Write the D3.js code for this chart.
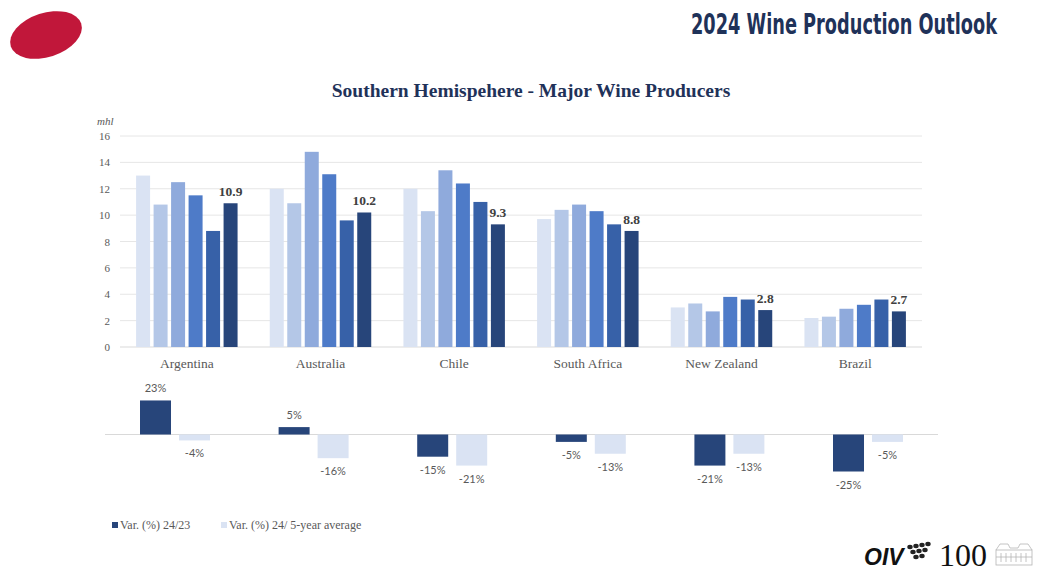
<!DOCTYPE html>
<html>
<head>
<meta charset="utf-8">
<script src="https://cdn.jsdelivr.net/npm/d3@7"></script>
<style>
  body { margin: 0; background: #fff; }
  svg { display: block; }
</style>
</head>
<body>
<div id="chart"></div>
<script>
// data
const countries = ["Argentina", "Australia", "Chile", "South Africa", "New Zealand", "Brazil"];
const years = ["2019", "2020", "2021", "2022", "2023", "2024"];
const production = [
  [13.0, 10.8, 12.5, 11.5, 8.8, 10.9],
  [12.0, 10.9, 14.8, 13.1, 9.6, 10.2],
  [12.0, 10.3, 13.4, 12.4, 11.0, 9.3],
  [9.7, 10.4, 10.8, 10.3, 9.3, 8.8],
  [3.0, 3.3, 2.7, 3.8, 3.6, 2.8],
  [2.2, 2.3, 2.9, 3.2, 3.6, 2.7]
];
const yTicks = [0, 2, 4, 6, 8, 10, 12, 14, 16];
const varSeries = ["Var. (%) 24/23", "Var. (%) 24/ 5-year average"];
const varPrevYear = [23, 5, -15, -5, -21, -25];
const varFiveYear = [-4, -16, -21, -13, -13, -5];

const width = 1042, height = 574;
const serif = "'Liberation Serif', 'DejaVu Serif', serif";
const navy = "#1f3259";
const grey = "#595959";

const svg = d3.select("#chart")
  .append("svg")
  .attr("width", width)
  .attr("height", height);

// header
svg.append("ellipse")
  .attr("cx", 46).attr("cy", 35)
  .attr("rx", 37).attr("ry", 22)
  .attr("transform", "rotate(-18,46,35)")
  .attr("fill", "#c1173a");

// condensed title: squeeze a normal bold face to the slide's width
const title = svg.append("text")
  .style("font-family", "'DejaVu Sans Condensed', 'DejaVu Sans', sans-serif")
  .style("font-weight", "bold")
  .style("font-size", "28px")
  .attr("fill", navy)
  .text("2024 Wine Production Outlook");
const tw = title.node().getComputedTextLength();
title.attr("transform", `translate(691,34) scale(${306 / tw},1)`);

svg.append("text")
  .attr("x", 531).attr("y", 97)
  .attr("text-anchor", "middle")
  .style("font-family", serif)
  .style("font-weight", "bold")
  .style("font-size", "19.5px")
  .attr("fill", navy)
  .text("Southern Hemispehere - Major Wine Producers");

// upper chart: production in mhl
const colors = ["#dae3f3", "#b4c7e7", "#8faadc", "#4e7bc8", "#3761a8", "#27457a"];
const x0 = d3.scaleBand().domain(countries).range([120, 922]).padding(0);
const x1 = d3.scaleBand().domain(years).range([0, x0.bandwidth()])
  .paddingInner(0.2).paddingOuter(0.92);
const y = d3.scaleLinear().domain([0, 16]).range([347, 136]);

const grid = svg.append("g");
grid.selectAll("line").data(yTicks).join("line")
  .attr("x1", 120).attr("x2", 922)
  .attr("y1", d => y(d)).attr("y2", d => y(d))
  .attr("stroke", d => d === 0 ? "#d9d9d9" : "#e6e6e6")
  .attr("stroke-width", 1);

const yAxis = svg.append("g")
  .attr("transform", "translate(120,0)")
  .call(d3.axisLeft(y).tickValues(yTicks).tickSize(0).tickPadding(10));
yAxis.select(".domain").remove();
yAxis.selectAll("text")
  .style("font-family", serif).style("font-size", "11px").attr("fill", grey);

svg.append("text")
  .attr("x", 97).attr("y", 125)
  .style("font-family", serif).style("font-style", "italic").style("font-size", "11px")
  .attr("fill", grey)
  .text("mhl");

const groups = svg.append("g").selectAll("g")
  .data(countries).join("g")
  .attr("transform", d => `translate(${x0(d)},0)`);

groups.selectAll("rect")
  .data((c, i) => production[i].map((v, j) => ({ year: years[j], v })))
  .join("rect")
  .attr("x", d => x1(d.year))
  .attr("width", x1.bandwidth())
  .attr("y", d => y(d.v))
  .attr("height", d => y(0) - y(d.v))
  .attr("fill", (d, j) => colors[j]);

groups.append("text")
  .attr("x", x1(years[5]) + x1.bandwidth() / 2)
  .attr("y", (c, i) => y(production[i][5]) - 7)
  .attr("text-anchor", "middle")
  .style("font-family", serif).style("font-weight", "bold").style("font-size", "13.5px")
  .attr("fill", "#404040")
  .text((c, i) => production[i][5].toFixed(1));

const xAxis = svg.append("g")
  .attr("transform", "translate(0,347)")
  .call(d3.axisBottom(x0).tickSize(0).tickPadding(11));
xAxis.select(".domain").remove();
xAxis.selectAll("text")
  .style("font-family", serif).style("font-size", "13.5px").attr("fill", grey);

// lower chart: variations in %
const v0 = d3.scaleBand().domain(countries).range([105.7, 937.3]).padding(0);
const v1 = d3.scaleBand().domain(varSeries).range([0, v0.bandwidth()])
  .paddingInner(0.205).paddingOuter(0.88);
const yv = d3.scaleLinear().domain([-30, 30]).range([434.5 + 44.4, 434.5 - 44.4]);
const varColors = ["#27457a", "#dae3f3"];

const varData = countries.flatMap((c, i) => [
  { c, s: varSeries[0], v: varPrevYear[i], k: 0 },
  { c, s: varSeries[1], v: varFiveYear[i], k: 1 }
]);

svg.append("line")
  .attr("x1", 105).attr("x2", 938)
  .attr("y1", yv(0)).attr("y2", yv(0))
  .attr("stroke", "#d9d9d9");

svg.append("g").selectAll("rect")
  .data(varData).join("rect")
  .attr("x", d => v0(d.c) + v1(d.s))
  .attr("width", v1.bandwidth())
  .attr("y", d => yv(Math.max(0, d.v)))
  .attr("height", d => Math.abs(yv(d.v) - yv(0)))
  .attr("fill", d => varColors[d.k]);

svg.append("g").selectAll("text")
  .data(varData).join("text")
  .attr("x", d => v0(d.c) + v1(d.s) + v1.bandwidth() / 2)
  .attr("y", d => d.v >= 0 ? yv(d.v) - 8 : yv(d.v) + 17)
  .attr("text-anchor", "middle")
  .style("font-family", "Lato, 'Open Sans', sans-serif").style("font-size", "11px")
  .attr("fill", grey)
  .text(d => d.v + "%");

// legend
const legend = svg.append("g").selectAll("g")
  .data(varSeries).join("g")
  .attr("transform", (d, i) => `translate(${[112, 221][i]},522)`);
legend.append("rect")
  .attr("width", 6).attr("height", 6)
  .attr("fill", (d, i) => varColors[i]);
legend.append("text")
  .attr("x", 8).attr("y", 6.5)
  .style("font-family", serif).style("font-size", "12px")
  .attr("fill", grey)
  .text(d => d);

// OIV 100 logo
const logo = svg.append("g");
logo.append("text")
  .attr("x", 864).attr("y", 565)
  .style("font-family", "'Liberation Sans', Arial, sans-serif")
  .style("font-weight", "bold").style("font-style", "italic").style("font-size", "23px")
  .attr("fill", "#111")
  .text("OIV");
const grapes = [[910, 547], [916, 546], [922, 545], [928, 544], [913, 552], [919, 551], [925, 550], [916, 557], [922, 556]];
logo.selectAll("ellipse.g").data(grapes).join("ellipse")
  .attr("cx", d => d[0]).attr("cy", d => d[1])
  .attr("rx", 2.7).attr("ry", 2.2)
  .attr("fill", "#222");
logo.append("text")
  .attr("x", 939).attr("y", 566)
  .style("font-family", serif).style("font-size", "32px")
  .attr("fill", "#111")
  .text("100");
const bld = logo.append("g")
  .attr("fill", "none").attr("stroke", "#b5b5b5").attr("stroke-width", 0.8);
bld.append("rect").attr("x", 996).attr("y", 550).attr("width", 36).attr("height", 15);
bld.append("path").attr("d", "M996,550 L1000,544 L1008,544 L1010,548 L1018,548 L1020,544 L1028,544 L1032,550");
bld.append("path").attr("d", "M1001,553 v9 M1006,553 v9 M1011,553 v9 M1016,553 v9 M1021,553 v9 M1026,553 v9 M996,557 h36");
</script>
</body>
</html>
